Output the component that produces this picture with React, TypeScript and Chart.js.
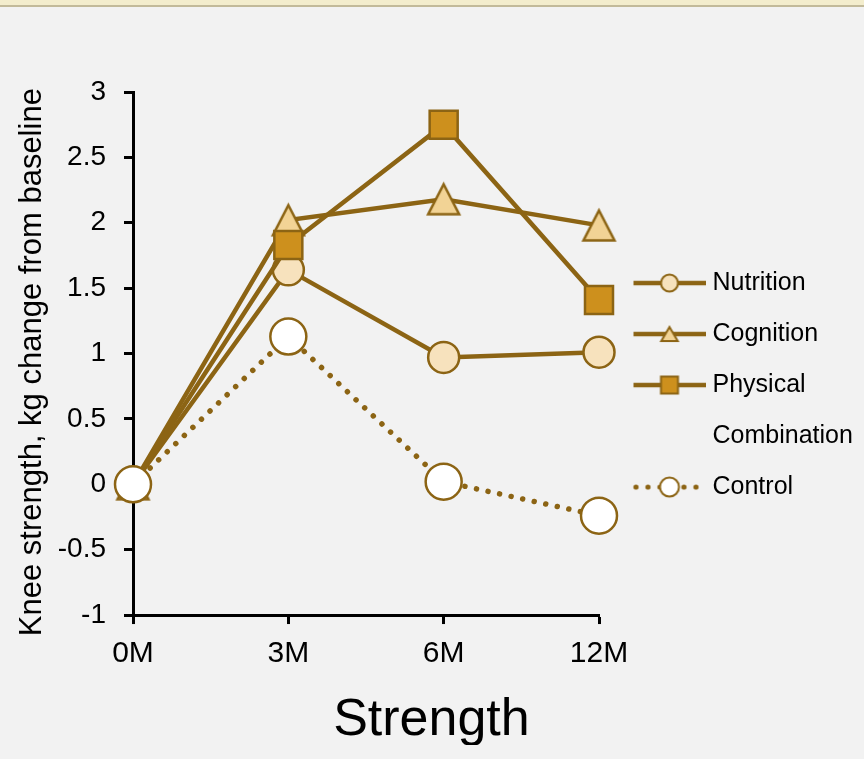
import { useEffect, useRef } from 'react';
import { Chart, registerables } from 'chart.js';

Chart.register(...registerables);

// Time points and change in knee strength (kg) from baseline per group
const periods = ['0M', '3M', '6M', '12M'];
const nutrition = [0, 1.64, 0.97, 1.01];
const cognition = [0, 2.02, 2.18, 1.98];
const physical = [0, 1.83, 2.75, 1.41];
const combination: (number | null)[] = [null, null, null, null];
const control = [0, 1.13, 0.02, -0.24];

const seriesNames = ['Nutrition', 'Cognition', 'Physical', 'Combination', 'Control'];
const yMin = -1;
const yMax = 3;
const yStep = 0.5;

const yTitle = 'Knee strength, kg change from baseline  ';
const chartTitle = 'Strength';

const LINE = '#8c6414';
const FILL_NUTRITION = '#f7e2bd';
const FILL_COGNITION = '#f2d395';
const FILL_PHYSICAL = '#cd901d';
const FILL_CONTROL = '#ffffff';
const FONT = '"Liberation Sans", Arial, sans-serif';

const WIDTH = 864;
const HEIGHT = 745;
const PLOT_TOP = 92;
const PLOT_RIGHT = 599;
const LEGEND_FONT = 25;
const LEGEND_PAD = 26;
const LEGEND_BOX = 75;

function makeCanvas(w: number, h: number) {
  const c = document.createElement('canvas');
  c.width = w;
  c.height = h;
  return c;
}

function trianglePath(ctx: CanvasRenderingContext2D, cx: number, cy: number, w: number, h: number) {
  ctx.beginPath();
  ctx.moveTo(cx, cy - h / 2);
  ctx.lineTo(cx + w / 2, cy + h / 2);
  ctx.lineTo(cx - w / 2, cy + h / 2);
  ctx.closePath();
}

// Isosceles triangle marker, centred on its bounding box
function triangleMarker(w: number, h: number, fill: string, bw: number) {
  const size = Math.ceil(Math.max(w, h) + 8);
  const c = makeCanvas(size, size);
  const ctx = c.getContext('2d')!;
  trianglePath(ctx, size / 2, size / 2, w, h);
  ctx.fillStyle = fill;
  ctx.fill();
  ctx.lineWidth = bw;
  ctx.strokeStyle = LINE;
  ctx.stroke();
  return c;
}

// Legend sample: line with the series marker in the middle.
// The sample sits in the right part of the image, close to the label.
function legendIcon(kind: string) {
  const ox = 14;
  const len = 72;
  const c = makeCanvas(len + ox, 36);
  const ctx = c.getContext('2d')!;
  const cy = 18;
  const cx = ox + len / 2;
  ctx.strokeStyle = LINE;
  ctx.fillStyle = LINE;
  if (kind === 'none') return c;
  if (kind === 'control') {
    for (let k = 0; k < 6; k++) {
      ctx.beginPath();
      ctx.arc(ox + 2.5 + 12 * k, cy, 2.6, 0, Math.PI * 2);
      ctx.fill();
    }
  } else {
    ctx.lineWidth = 4.5;
    ctx.beginPath();
    ctx.moveTo(ox, cy);
    ctx.lineTo(ox + len, cy);
    ctx.stroke();
  }
  ctx.lineWidth = 2;
  if (kind === 'circle' || kind === 'control') {
    ctx.beginPath();
    ctx.arc(cx, cy, kind === 'control' ? 9.5 : 8.5, 0, Math.PI * 2);
    ctx.fillStyle = kind === 'control' ? FILL_CONTROL : FILL_NUTRITION;
    ctx.fill();
    ctx.stroke();
  } else if (kind === 'triangle') {
    trianglePath(ctx, cx, cy, 16.5, 14);
    ctx.fillStyle = FILL_COGNITION;
    ctx.fill();
    ctx.stroke();
  } else if (kind === 'rect') {
    ctx.beginPath();
    ctx.rect(cx - 8.5, cy - 8.5, 17, 17);
    ctx.fillStyle = FILL_PHYSICAL;
    ctx.fill();
    ctx.stroke();
  }
  return c;
}

export default function App() {
  const ref = useRef<HTMLCanvasElement | null>(null);

  useEffect(() => {
    document.body.style.margin = '0';
    document.body.style.background = '#f2f2f2';
    const canvas = ref.current;
    if (!canvas) return;

    const legendKinds = ['circle', 'triangle', 'rect', 'none', 'control'];
    const icons = legendKinds.map(legendIcon);
    const triImg = triangleMarker(31, 30, FILL_COGNITION, 2.5);

    // Right padding so that the legend starts where the plot ends
    const measure = makeCanvas(10, 10).getContext('2d')!;
    measure.font = `${LEGEND_FONT}px ${FONT}`;
    const textW = Math.max(...seriesNames.map((n) => measure.measureText(n).width));
    const legendW = LEGEND_PAD + LEGEND_BOX + LEGEND_FONT / 2 + textW + 10;
    const padRight = Math.max(0, WIDTH - PLOT_RIGHT - legendW);

    const common = {
      borderColor: LINE,
      borderWidth: 4.5,
      pointBorderColor: LINE,
      pointBorderWidth: 2.5,
      clip: false as const,
      tension: 0,
    };

    const chart = new Chart(canvas, {
      type: 'line',
      data: {
        labels: periods,
        datasets: [
          {
            ...common,
            label: seriesNames[0],
            data: nutrition,
            pointStyle: 'circle',
            pointRadius: 15.5,
            pointBackgroundColor: FILL_NUTRITION,
            order: 3,
          },
          {
            ...common,
            label: seriesNames[1],
            data: cognition,
            pointStyle: triImg as any,
            pointRadius: 17,
            pointBackgroundColor: FILL_COGNITION,
            order: 2,
          },
          {
            ...common,
            label: seriesNames[2],
            data: physical,
            pointStyle: 'rect',
            pointRadius: [0, 19.8, 19.8, 19.8],
            pointBackgroundColor: FILL_PHYSICAL,
            order: 1,
          },
          {
            ...common,
            label: seriesNames[3],
            data: combination,
            borderWidth: 0,
            pointRadius: 0,
            order: 4,
          },
          {
            ...common,
            label: seriesNames[4],
            data: control,
            borderWidth: 5.5,
            borderDash: [0.01, 11.8],
            borderCapStyle: 'round',
            pointStyle: 'circle',
            pointRadius: 18,
            pointBackgroundColor: FILL_CONTROL,
            order: 0,
          },
        ],
      },
      options: {
        responsive: false,
        animation: false,
        events: [],
        layout: { padding: { top: PLOT_TOP, left: 0, right: padRight, bottom: 0 } },
        plugins: {
          tooltip: { enabled: false },
          title: {
            display: true,
            position: 'bottom',
            text: chartTitle,
            color: '#000',
            font: { family: FONT, size: 52, weight: 'normal', lineHeight: 0.93 },
            padding: 0,
          },
          legend: {
            display: true,
            position: 'right',
            align: 'center',
            fullSize: false,
            maxWidth: 400,
            title: {
              display: true,
              text: ' ',
              font: { size: 1, lineHeight: 1 },
              padding: { top: 62, bottom: 0 },
            },
            labels: {
              usePointStyle: true,
              pointStyleWidth: LEGEND_BOX,
              padding: LEGEND_PAD,
              color: '#000',
              font: { family: FONT, size: LEGEND_FONT },
              generateLabels: () =>
                seriesNames.map((name, i) => ({
                  text: name,
                  pointStyle: icons[i] as any,
                  fillStyle: 'transparent',
                  strokeStyle: 'transparent',
                  lineWidth: 0,
                  hidden: false,
                  datasetIndex: i,
                  fontColor: '#000',
                })),
            },
          },
        },
        scales: {
          x: {
            type: 'category',
            offset: false,
            grid: {
              display: true,
              drawOnChartArea: false,
              drawTicks: true,
              tickLength: 9,
              tickWidth: 3,
              tickColor: '#000',
              offset: false,
            },
            border: { display: true, color: '#000', width: 3 },
            ticks: {
              color: '#000',
              font: { family: FONT, size: 30 },
              padding: 12,
              maxRotation: 0,
              autoSkip: false,
            },
            afterFit: (s: any) => {
              s.height = 81.6;
            },
          },
          y: {
            min: yMin,
            max: yMax,
            ticks: {
              stepSize: yStep,
              color: '#000',
              font: { family: FONT, size: 28 },
              padding: 18,
              callback: (v: any) => String(v),
            },
            grid: {
              display: true,
              drawOnChartArea: false,
              drawTicks: true,
              tickLength: 9,
              tickWidth: 3,
              tickColor: '#000',
            },
            border: { display: true, color: '#000', width: 3 },
            title: {
              display: true,
              text: yTitle,
              color: '#000',
              font: { family: FONT, size: 31 },
              padding: { top: 14, bottom: 0 },
            },
            afterFit: (s: any) => {
              s.width = 133;
            },
          },
        },
      },
    });

    return () => chart.destroy();
  }, []);

  return (
    <div style={{ position: 'relative', width: WIDTH, height: 759, background: '#f2f2f2', overflow: 'hidden' }}>
      <canvas
        ref={ref}
        width={WIDTH}
        height={HEIGHT}
        style={{ position: 'absolute', left: 0, top: 0, width: WIDTH, height: HEIGHT, display: 'block' }}
      />
      <div
        style={{
          position: 'absolute',
          left: 0,
          top: 0,
          width: WIDTH,
          height: 5,
          background: '#f3edcd',
          borderBottom: '2px solid #c2ba9a',
        }}
      />
    </div>
  );
}
